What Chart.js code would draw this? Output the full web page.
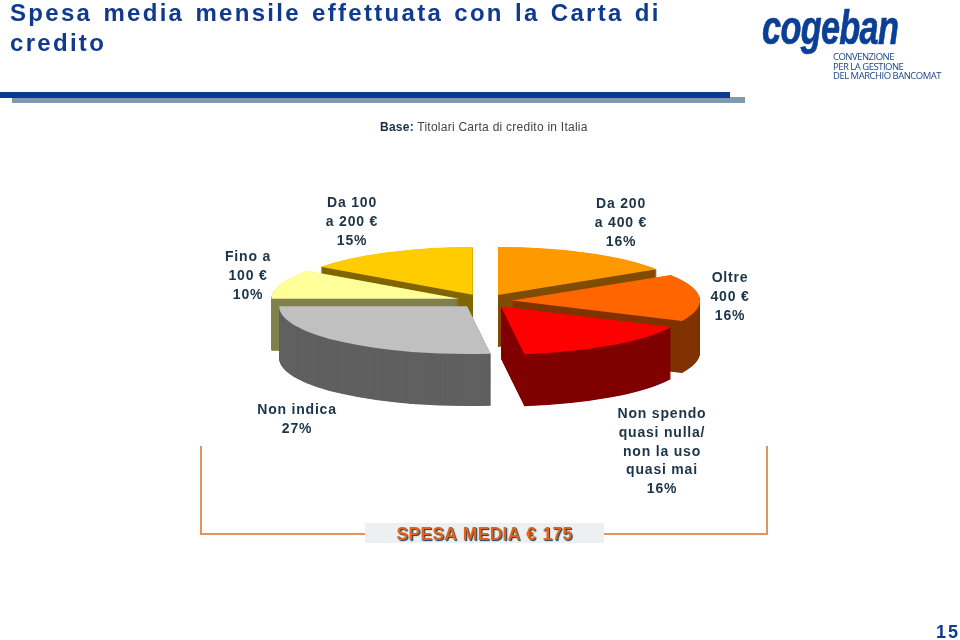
<!DOCTYPE html>
<html>
<head>
<meta charset="utf-8">
<title>Spesa media mensile</title>
<script src="https://cdn.jsdelivr.net/npm/chart.js@4/dist/chart.umd.js"></script>
<style>
  html, body { margin: 0; background: #fff; }
  #page { position: relative; width: 960px; height: 640px; overflow: hidden; font-family: "Liberation Sans", sans-serif; }
  #page div { position: absolute; white-space: nowrap; }
  canvas { position: absolute; left: 0; top: 0; }
  #title { left: 10px; top: -2px; font-size: 24px; line-height: 30px; font-weight: bold; letter-spacing: 2.3px; word-spacing: 2.2px; color: #0f3a8e; }
  #regola { left: 0; top: 92px; width: 730px; height: 6px; background: #0a3a92; }
  #ombra { left: 12px; top: 97px; width: 733px; height: 6px; background: #7f99ae; }
  #base { left: 380px; top: 120px; font-size: 12px; line-height: 14px; color: #444; letter-spacing: .25px; }
  #base b { color: #12304a; }
  .linea { background: #e09560; }
  #box { left: 365px; top: 523px; width: 239px; height: 20px; background: #edf0f0; }
  #media { left: 365px; top: 524px; width: 239px; text-align: center; font-size: 17.5px; line-height: 20px; font-weight: bold; letter-spacing: .3px; word-spacing: 1px; color: #e0621c; text-shadow: 1px 1px 1px #1c3a55; }
  #num { left: 936px; top: 622px; font-size: 18px; line-height: 20px; font-weight: bold; letter-spacing: 2px; color: #0f3a8e; }
  #logo { left: 762px; top: -3px; font-size: 49px; line-height: 60px; font-weight: bold; font-style: italic; color: #0a3f96; -webkit-text-stroke: .7px #0a3f96; transform-origin: 0 0; transform: scaleX(.7); letter-spacing: -1px; }
  #sub { left: 833px; top: 52px; font-family: "Open Sans"; font-size: 9.5px; line-height: 9.5px; color: #1b4585; letter-spacing: -.5px; }
</style>
</head>
<body>
<div id="page">
  <canvas id="myChart" width="960" height="640"></canvas>
  <div id="title">Spesa media mensile effettuata con la Carta di<br>credito</div>
  <div id="ombra"></div>
  <div id="regola"></div>
  <div id="base"><b>Base:</b> Titolari Carta di credito in Italia</div>
  <div class="linea" style="left:200px;top:446px;width:2px;height:89px"></div>
  <div class="linea" style="left:200px;top:533px;width:165px;height:2px"></div>
  <div class="linea" style="left:604px;top:533px;width:164px;height:2px"></div>
  <div class="linea" style="left:766px;top:446px;width:2px;height:89px"></div>
  <div id="box"></div>
  <div id="media">SPESA MEDIA € 175</div>
  <div id="num">15</div>
  <div id="logo">cogeban</div>
  <div id="sub">CONVENZIONE<br>PER LA GESTIONE<br>DEL MARCHIO BANCOMAT</div>
</div>
<script>
// dati, in senso orario dalle ore 12
const categorie = [
  ["Da 200", "a 400 €"],
  ["Oltre", "400 €"],
  ["Non spendo", "quasi nulla/", "non la uso", "quasi mai"],
  ["Non indica"],
  ["Fino a", "100 €"],
  ["Da 100", "a 200 €"],
];
const valori = [16, 16, 16, 27, 10, 15];
const coloriSopra = ["#ff9900", "#ff6600", "#ff0000", "#c0c0c0", "#ffff99", "#ffcc00"];
const coloriLato = ["#804d00", "#803300", "#800000", "#606060", "#80804d", "#806600"];

// dove va il testo di ogni fetta (centro x, baseline prima riga)
const posEtichette = [[621, 208], [730, 282], [662, 418], [297, 414], [248, 261], [352, 207]];
const ordineDisegno = [5, 0, 4, 1, 3, 2]; // da dietro a davanti
const schiacciamento = 0.255;
const profondita = 52;
const esplosione = 27;

function disegnaFetta(ctx, arco, colore, dy) {
  const opzioni = arco.options;
  const meta = (arco.startAngle + arco.endAngle) / 2;
  ctx.save();
  ctx.translate(Math.cos(meta) * esplosione, Math.sin(meta) * esplosione + dy);
  arco.options = { ...opzioni, backgroundColor: colore, offset: 0 };
  arco.draw(ctx);
  arco.options = opzioni;
  ctx.restore();
}

const torta3d = {
  id: "torta3d",
  beforeDatasetDraw(chart, args) {
    const ctx = chart.ctx;
    const area = chart.chartArea;
    const cx = (area.left + area.right) / 2;
    const cy = (area.top + area.bottom) / 2;
    ctx.save();
    ctx.translate(cx, cy);
    ctx.scale(1, schiacciamento);
    ctx.translate(-cx, -cy);
    ordineDisegno.forEach((i) => {
      const arco = args.meta.data[i];
      // mezzo pixel alla volta, cosi il lato non viene a righe
      for (let d = profondita; d > 0; d -= 0.5) {
        disegnaFetta(ctx, arco, coloriLato[i], d / schiacciamento);
      }
      disegnaFetta(ctx, arco, coloriSopra[i], 0);
    });
    ctx.restore();
    return false;
  },
  afterDraw(chart) {
    const ctx = chart.ctx;
    ctx.save();
    ctx.font = "bold 14px 'Liberation Sans'";
    ctx.letterSpacing = "0.8px";
    ctx.textAlign = "center";
    ctx.fillStyle = "#1b3448";
    categorie.forEach((righe, i) => {
      const [x, y] = posEtichette[i];
      [...righe, valori[i] + "%"].forEach((testo, r) => {
        ctx.fillText(testo, x, y + r * 18.8);
      });
    });
    ctx.restore();
  },
};

new Chart(document.getElementById("myChart"), {
  type: "pie",
  data: {
    labels: categorie.map((c) => c.join(" ")),
    datasets: [{ data: valori, backgroundColor: coloriSopra, borderWidth: 0, offset: esplosione }],
  },
  options: {
    responsive: false,
    animation: false,
    events: [],
    radius: 188,
    layout: { padding: { left: 10, bottom: 38 } },
    plugins: { legend: { display: false }, tooltip: { enabled: false } },
  },
  plugins: [torta3d],
});
</script>
</body>
</html>
